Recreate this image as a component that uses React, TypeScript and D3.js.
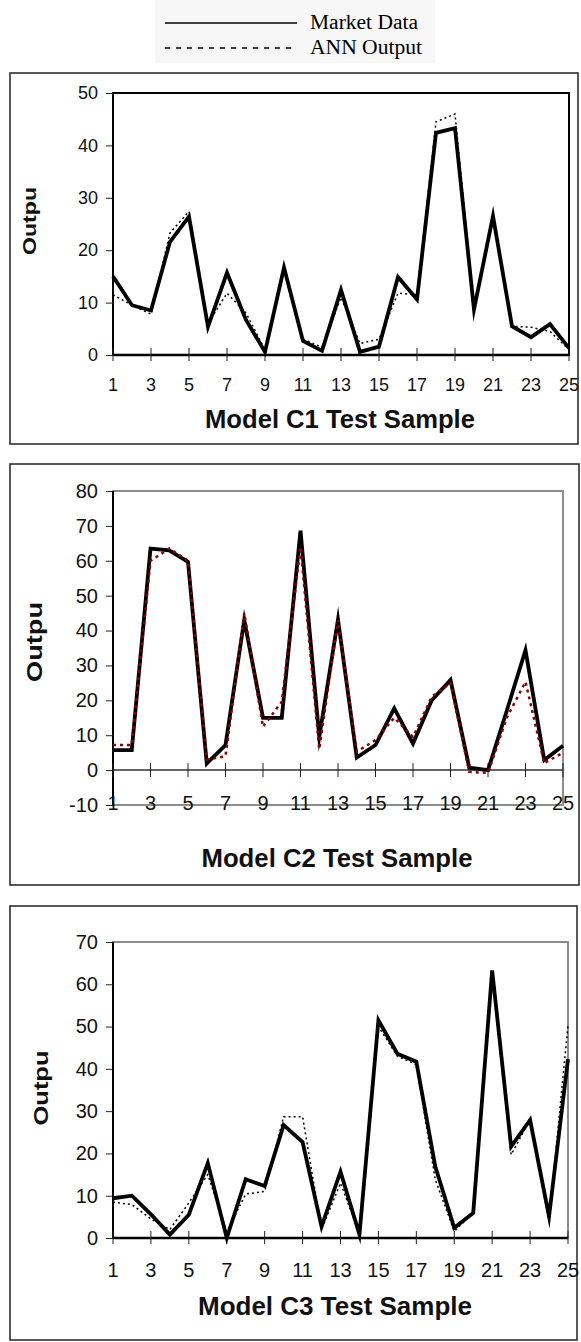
import React, { useRef, useEffect } from 'react';
import * as d3 from 'd3';

// test sample index, shared by all three models
const samples = [1, 2, 3, 4, 5, 6, 7, 8, 9, 10, 11, 12, 13, 14, 15, 16, 17, 18, 19, 20, 21, 22, 23, 24, 25];
const xTickLabels = [1, 3, 5, 7, 9, 11, 13, 15, 17, 19, 21, 23, 25];

const c1Market = [15, 9.5, 8.5, 21.6, 26.4, 5.4, 15.7, 6.7, 0.6, 16.7, 2.7, 0.8, 12.4, 0.6, 1.6, 14.9, 10.6, 42.4, 43.3, 8.7, 26.5, 5.5, 3.4, 5.9, 1.3];
const c1Ann = [11.5, 9.5, 7.8, 23.3, 27.4, 6, 11.8, 8, 1, 16, 3, 1.5, 11, 2.2, 3, 11.8, 11.5, 44.5, 46, 9, 26, 5.5, 5.3, 4.5, 1];
const c1Ticks = [0, 10, 20, 30, 40, 50];

const c2Market = [5.7, 5.7, 63.5, 63, 59.7, 1.9, 7.2, 43, 15, 15, 68.6, 9.5, 43.2, 3.6, 7.2, 17.7, 7.6, 20, 25.8, 0.7, 0, 17, 34.4, 2.9, 7];
const c2Ann = [7.2, 7.2, 60, 63.5, 60, 3, 4, 45, 12.4, 19.6, 64, 6, 43, 5.3, 8.6, 15, 9.5, 21, 25, -0.5, -0.8, 15, 25.3, 2, 5];
const c2Ticks = [-10, 0, 10, 20, 30, 40, 50, 60, 70, 80];

const c3Market = [9.4, 10, 5.6, 0.8, 5.5, 17.7, 0, 13.9, 12.3, 26.7, 22.7, 2.7, 15.7, 0.8, 51.5, 43.6, 41.7, 16.9, 2.4, 5.9, 63.3, 21.6, 27.9, 5.1, 42.3];
const c3Ann = [8.5, 7.9, 4.5, 2, 8.3, 15, 1.5, 10.4, 11, 28.7, 28.7, 2, 13, 1, 50, 43, 41, 13.8, 1.6, 6, 62, 19.7, 28, 3.9, 50.3];
const c3Ticks = [0, 10, 20, 30, 40, 50, 60, 70];

const legendLabels = ['Market Data', 'ANN Output'];

const W = 581;
const H = 1342;

const panels = [
  {
    title: 'Model C1 Test Sample', market: c1Market, ann: c1Ann, ticks: c1Ticks,
    box: { x0: 10, y0: 73, x1: 578, y1: 444 },
    plot: { left: 113, right: 569, top: 93, bottom: 355 },
    frame: '#000', annColor: '#000', annDash: '2,3', annWidth: 1.5,
    tickFont: 18, xLabelY: 385, titleX: 340, titleY: 419, titleLen: 270,
    yTitleX: 30, yTitleY: 221, yTitleFont: 18, yTitleLen: 68,
  },
  {
    title: 'Model C2 Test Sample', market: c2Market, ann: c2Ann, ticks: c2Ticks,
    box: { x0: 10, y0: 464, x1: 579, y1: 885 },
    plot: { left: 113, right: 563, top: 491, bottom: 805 },
    frame: '#8c8c8c', annColor: '#8b0000', annDash: '3,4', annWidth: 2.5,
    tickFont: 20, xLabelY: 803, titleX: 337, titleY: 858, titleLen: 271,
    yTitleX: 34, yTitleY: 642, yTitleFont: 22, yTitleLen: 80,
  },
  {
    title: 'Model C3 Test Sample', market: c3Market, ann: c3Ann, ticks: c3Ticks,
    box: { x0: 10, y0: 906, x1: 577, y1: 1340 },
    plot: { left: 113, right: 568, top: 942, bottom: 1238 },
    frame: '#8c8c8c', annColor: '#000', annDash: '2,3', annWidth: 1.5,
    tickFont: 20, xLabelY: 1270, titleX: 335, titleY: 1306, titleLen: 274,
    yTitleX: 41, yTitleY: 1088, yTitleFont: 21, yTitleLen: 75,
  },
];

export default function App() {
  const ref = useRef<SVGSVGElement>(null);

  useEffect(() => {
    document.body.style.margin = '0';
    const svg = d3.select(ref.current);
    svg.selectAll('*').remove();

    // legend
    const lg = svg.append('g');
    lg.append('rect').attr('x', 155).attr('y', 0).attr('width', 280).attr('height', 63).attr('fill', '#f7f7f7');
    lg.append('line').attr('x1', 165).attr('x2', 297).attr('y1', 23).attr('y2', 23)
      .attr('stroke', '#000').attr('stroke-width', 1.6);
    lg.append('line').attr('x1', 165).attr('x2', 297).attr('y1', 48).attr('y2', 48)
      .attr('stroke', '#000').attr('stroke-width', 1.4).attr('stroke-dasharray', '5,6');
    lg.selectAll('text.leg').data(legendLabels).join('text')
      .attr('class', 'leg')
      .attr('x', 310)
      .attr('y', (d, i) => (i === 0 ? 29 : 54))
      .attr('textLength', (d, i) => (i === 0 ? 108 : 112))
      .attr('lengthAdjust', 'spacingAndGlyphs')
      .attr('font-family', '"Liberation Serif", "Times New Roman", serif')
      .attr('font-size', 20)
      .text(d => d);

    panels.forEach(p => {
      const g = svg.append('g');
      const [ymin, ymax] = [p.ticks[0], p.ticks[p.ticks.length - 1]];

      const x = d3.scaleLinear().domain([1, 25]).range([p.plot.left, p.plot.right]);
      const y = d3.scaleLinear().domain([ymin, ymax]).range([p.plot.bottom, p.plot.top]);

      g.append('rect')
        .attr('x', p.box.x0).attr('y', p.box.y0)
        .attr('width', p.box.x1 - p.box.x0).attr('height', p.box.y1 - p.box.y0)
        .attr('fill', '#fff').attr('stroke', '#222').attr('stroke-width', 1.5);

      // plot area frame
      g.append('rect')
        .attr('x', p.plot.left).attr('y', p.plot.top)
        .attr('width', p.plot.right - p.plot.left).attr('height', p.plot.bottom - p.plot.top)
        .attr('fill', 'none').attr('stroke', p.frame).attr('stroke-width', 2);

      // category axis at zero
      g.append('line')
        .attr('x1', p.plot.left).attr('x2', p.plot.right)
        .attr('y1', y(0)).attr('y2', y(0))
        .attr('stroke', ymin < 0 ? '#333' : '#000').attr('stroke-width', ymin < 0 ? 1.5 : 2.5);

      g.append('line')
        .attr('x1', p.plot.left).attr('x2', p.plot.left)
        .attr('y1', p.plot.top).attr('y2', p.plot.bottom)
        .attr('stroke', '#000').attr('stroke-width', 2);

      const yAxis = d3.axisLeft(y).tickValues(p.ticks).tickSize(7).tickPadding(8)
        .tickFormat(d => String(d));
      const ya = g.append('g').attr('transform', `translate(${p.plot.left},0)`).call(yAxis);
      ya.select('.domain').remove();
      ya.selectAll('line').attr('stroke', '#222').attr('stroke-width', 1);
      ya.selectAll('text')
        .attr('font-family', 'Arial, "Liberation Sans", sans-serif')
        .attr('font-size', p.tickFont)
        .attr('fill', '#111');

      // cross tick marks
      g.selectAll('line.xt').data(xTickLabels).join('line')
        .attr('class', 'xt')
        .attr('x1', d => x(d)).attr('x2', d => x(d))
        .attr('y1', y(0) - 7).attr('y2', y(0) + (ymin < 0 ? 7 : 6))
        .attr('stroke', '#222').attr('stroke-width', 1);

      g.selectAll('text.xl').data(xTickLabels).join('text')
        .attr('class', 'xl')
        .attr('x', d => x(d)).attr('y', p.xLabelY).attr('dy', '0.35em')
        .attr('text-anchor', 'middle')
        .attr('font-family', 'Arial, "Liberation Sans", sans-serif')
        .attr('font-size', p.tickFont)
        .attr('fill', '#111')
        .text(d => d);

      const line = d3.line<number>().x((d, i) => x(samples[i])).y(d => y(d));

      g.append('path').datum(p.market)
        .attr('d', line)
        .attr('fill', 'none').attr('stroke', '#000').attr('stroke-width', 3.8)
        .attr('stroke-linejoin', 'miter').attr('stroke-miterlimit', 10);

      g.append('path').datum(p.ann)
        .attr('d', line)
        .attr('fill', 'none').attr('stroke', p.annColor).attr('stroke-width', p.annWidth)
        .attr('stroke-dasharray', p.annDash);

      g.append('text')
        .attr('x', p.titleX).attr('y', p.titleY).attr('dy', '0.35em')
        .attr('text-anchor', 'middle')
        .attr('textLength', p.titleLen).attr('lengthAdjust', 'spacingAndGlyphs')
        .attr('font-family', 'Arial, "Liberation Sans", sans-serif')
        .attr('font-weight', 'bold').attr('font-size', 25)
        .attr('fill', '#111')
        .text(p.title);

      g.append('text')
        .attr('transform', `translate(${p.yTitleX},${p.yTitleY}) rotate(-90)`)
        .attr('dy', '0.35em')
        .attr('text-anchor', 'middle')
        .attr('textLength', p.yTitleLen).attr('lengthAdjust', 'spacingAndGlyphs')
        .attr('font-family', 'Arial, "Liberation Sans", sans-serif')
        .attr('font-weight', 'bold').attr('font-size', p.yTitleFont)
        .attr('fill', '#111')
        .text('Outpu');
    });
  }, []);

  return (
    <div>
      <svg ref={ref} width={W} height={H} style={{ display: 'block' }}></svg>
    </div>
  );
}
